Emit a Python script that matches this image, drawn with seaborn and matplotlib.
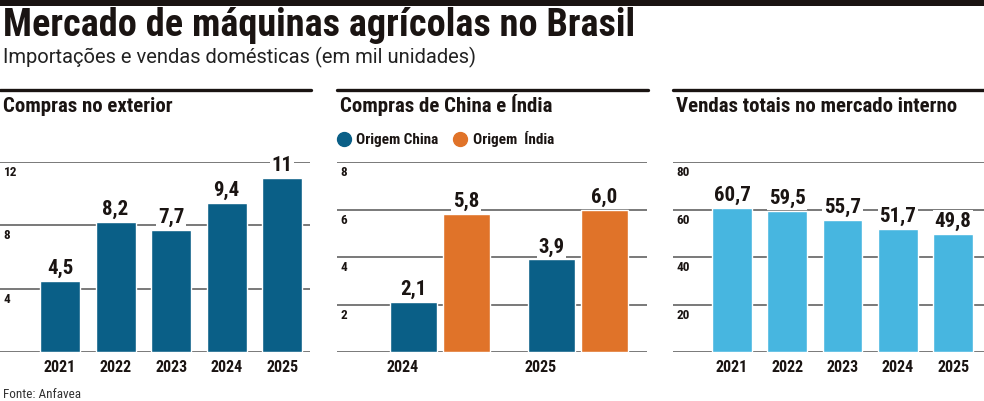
import matplotlib
matplotlib.use("Agg")
import matplotlib.pyplot as plt
import seaborn as sns
import pandas as pd
from matplotlib.lines import Line2D
from matplotlib.patches import Rectangle

# Dados (em mil unidades)
anos = ["2021", "2022", "2023", "2024", "2025"]
compras_exterior = [4.5, 8.2, 7.7, 9.4, 11]
anos_origem = ["2024", "2025"]
origem_china = [2.1, 3.9]
origem_india = [5.8, 6.0]
vendas_internas = [60.7, 59.5, 55.7, 51.7, 49.8]

ticks_exterior = [4, 8, 12]
ticks_origem = [2, 4, 6, 8]
ticks_vendas = [20, 40, 60, 80]

AZUL = "#0a5f87"
LARANJA = "#e07329"
CIANO = "#47b6e0"
GRADE = "#555555"
TEXTO = "#1a1412"

sns.set_theme(style="white")
plt.rcParams["font.family"] = ["Roboto Condensed", "Roboto", "DejaVu Sans"]

W, H = 984, 401
fig = plt.figure(figsize=(W / 100, H / 100), dpi=100)


def fx(px):
    return px / W


def fy(py):
    return 1 - py / H


def eixo(x0, x1):
    return fig.add_axes([fx(x0), fy(352), fx(x1 - x0), (352 - 162) / H])


def painel(ax, ticks, fmt):
    ax.set_ylim(0, ticks[-1])
    ax.set_yticks([])
    ax.set_ylabel("")
    ax.set_xlabel("")
    ax.patch.set_visible(False)
    sns.despine(ax=ax, left=True, bottom=True)
    for t in [0] + ticks:
        ax.axhline(t, color=GRADE, lw=1.1, zorder=0)
    for t in ticks:
        ax.annotate(str(t), xy=(0, t), xycoords=ax.get_yaxis_transform(),
                    xytext=(2.5, -3), textcoords="offset points",
                    ha="left", va="top", fontsize=9.5, fontweight="bold", color=TEXTO)
    ax.tick_params(axis="x", length=0, pad=6)
    for lab in ax.get_xticklabels():
        lab.set_fontsize(11.5)
        lab.set_fontweight("bold")
        lab.set_color(TEXTO)
    for cont in ax.containers:
        ax.bar_label(cont, labels=[fmt(b.get_height()) for b in cont], padding=2,
                     fontsize=15, fontweight="bold", color=TEXTO, zorder=5,
                     bbox=dict(facecolor="white", edgecolor="none", pad=1.2))


# ===== 1. Compras no exterior =====
ax1 = eixo(0, 310)
sns.barplot(x=anos, y=compras_exterior, color=AZUL, saturation=1, width=0.72, ax=ax1, zorder=2)
ax1.set_xlim(-1.08, 4.5)
painel(ax1, ticks_exterior, lambda v: f"{v:g}".replace(".", ","))

# ===== 2. Compras de China e Índia =====
df_origem = pd.DataFrame({
    "ano": anos_origem * 2,
    "valor": origem_china + origem_india,
    "origem": ["Origem China"] * len(anos_origem) + ["Origem  Índia"] * len(anos_origem),
})
ax2 = eixo(337, 647)
sns.barplot(data=df_origem, x="ano", y="valor", hue="origem", palette=[AZUL, LARANJA],
            saturation=1, width=0.76, gap=0.1, ax=ax2, zorder=2)
ax2.legend_.remove()
ax2.set_xlim(-0.746, 1.5)
ax2.set_xticks([i - 0.27 for i in range(len(anos_origem))], anos_origem)
painel(ax2, ticks_origem, lambda v: f"{v:.1f}".replace(".", ","))
handles = [Line2D([], [], marker="o", ls="", ms=10, color=c) for c in (AZUL, LARANJA)]
ax2.legend(handles, ["Origem China", "Origem  Índia"], loc="center left",
           bbox_to_anchor=(-0.045, 1.12), ncol=2, frameon=False, handlelength=0.9,
           handletextpad=0.35, columnspacing=1.0, prop=dict(size=11, weight="bold"),
           labelcolor=TEXTO)

# ===== 3. Vendas totais no mercado interno =====
ax3 = eixo(673, 984)
sns.barplot(x=anos, y=vendas_internas, color=CIANO, saturation=1, width=0.72, ax=ax3, zorder=2)
ax3.set_xlim(-1.07, 4.56)
painel(ax3, ticks_vendas, lambda v: f"{v:.1f}".replace(".", ","))

# ===== Títulos e linhas =====
fig.add_artist(Rectangle((0, fy(6)), 1, 6 / H, transform=fig.transFigure, color=TEXTO, lw=0))
fig.text(fx(3), fy(36), "Mercado de máquinas agrícolas no Brasil", ha="left", va="baseline",
         fontsize=27.5, fontweight="heavy", color=TEXTO)
fig.text(fx(3), fy(63), "Importações e vendas domésticas (em mil unidades)", ha="left",
         va="baseline", fontsize=14.5, fontweight="normal", color="#222222",
         family=["Roboto", "DejaVu Sans"])

for (x0, x1), titulo in zip([(0, 311), (337, 648), (673, 984)],
                            ["Compras no exterior", "Compras de China e Índia",
                             "Vendas totais no mercado interno"]):
    fig.add_artist(Line2D([fx(x0), fx(x1)], [fy(90), fy(90)], transform=fig.transFigure,
                          color=TEXTO, lw=2.4))
    fig.text(fx(x0 + 3), fy(112), titulo, ha="left", va="baseline",
             fontsize=15, fontweight="bold", color=TEXTO)

fig.text(fx(3), fy(398), "Fonte: Anfavea", ha="left", va="baseline", fontsize=9.5, color="#333333")

fig.savefig("out.png", dpi=100)
